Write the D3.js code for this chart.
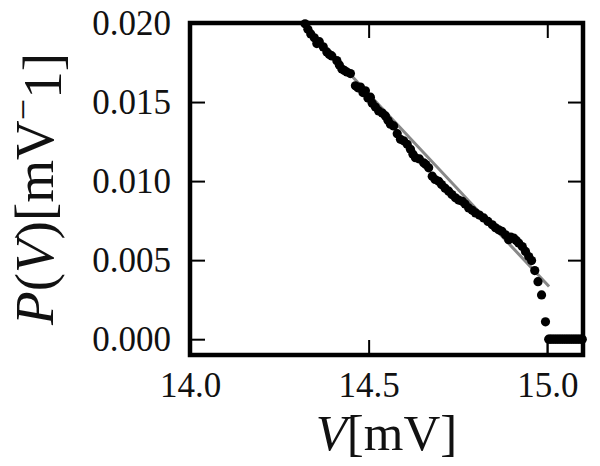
<!DOCTYPE html>
<html>
<head>
<meta charset="utf-8">
<script src="https://cdn.jsdelivr.net/npm/d3@7"></script>
<style>
  body { margin: 0; background: #fff; }
  svg text { font-family: "Liberation Serif", "Times New Roman", serif; fill: #111; }
  .axis path { display: none; }
  .axis line { stroke: #000; stroke-width: 2; }
</style>
</head>
<body>
<div id="graph"></div>
<script>
// measured points (V in mV, P in 1/mV)
var voltage = [14.322, 14.330, 14.338, 14.348, 14.355, 14.362, 14.373, 14.383, 14.390, 14.397,
  14.411, 14.418, 14.425, 14.432, 14.439, 14.449, 14.463, 14.470, 14.477, 14.484,
  14.491, 14.498, 14.505, 14.510, 14.519, 14.528, 14.538, 14.547, 14.554, 14.561,
  14.570, 14.580, 14.589, 14.598, 14.608, 14.617, 14.624, 14.631, 14.642, 14.654,
  14.660, 14.668, 14.678, 14.686, 14.696, 14.704, 14.714, 14.724, 14.733, 14.743,
  14.752, 14.762, 14.770, 14.780, 14.790, 14.799, 14.810, 14.822, 14.834, 14.846,
  14.855, 14.864, 14.873, 14.883, 14.892, 14.898, 14.906, 14.913, 14.920, 14.930,
  14.939, 14.948, 14.956, 14.965, 14.974, 14.984, 14.995, 15.004];
var density = [0.01995, 0.01960, 0.01931, 0.01906, 0.01870, 0.01882, 0.01849, 0.01817, 0.01800, 0.01792,
  0.01762, 0.01735, 0.01709, 0.01700, 0.01690, 0.01680, 0.01603, 0.01590, 0.01595, 0.01560,
  0.01571, 0.01525, 0.01531, 0.01493, 0.01468, 0.01444, 0.01430, 0.01412, 0.01385, 0.01360,
  0.01349, 0.01300, 0.01264, 0.01255, 0.01233, 0.01201, 0.01170, 0.01148, 0.01140, 0.01116,
  0.01105, 0.01084, 0.01031, 0.01010, 0.00999, 0.00978, 0.00955, 0.00936, 0.00915, 0.00894,
  0.00880, 0.00872, 0.00855, 0.00830, 0.00815, 0.00799, 0.00785, 0.00767, 0.00745, 0.00724,
  0.00705, 0.00692, 0.00682, 0.00660, 0.00629, 0.00645, 0.00640, 0.00625, 0.00608, 0.00586,
  0.00555, 0.00523, 0.00497, 0.00434, 0.00364, 0.00280, 0.00110, 0.00000];
// flat zero tail above threshold
var tailVoltage = [15.008, 15.013, 15.018, 15.023, 15.028, 15.033, 15.038, 15.043, 15.048, 15.053,
  15.058, 15.063, 15.068, 15.073, 15.078, 15.083, 15.088, 15.093, 15.098];
// straight fit line end points
var fitVoltage = [14.314, 15.005];
var fitDensity = [0.02000, 0.00333];

var xTicks = [14.0, 14.5, 15.0];
var yTicks = [0.000, 0.005, 0.010, 0.015, 0.020];
var threshold = 15.0;

var serif = '"Liberation Serif", "Times New Roman", serif';
var width = 600, height = 466;
var margin = {left: 190, right: 17, top: 23, bottom: 111};

var svg = d3.select('#graph').append('svg')
  .attr('width', width)
  .attr('height', height);

var x = d3.scaleLinear().domain([14.0, 15.1]).range([margin.left, width - margin.right]);
var y = d3.scaleLinear().domain([-0.001, 0.020]).range([height - margin.bottom, margin.top]);

// fit line
var fit = fitVoltage.map(function(v, i){ return [v, fitDensity[i]]; });
svg.append('path')
  .datum(fit)
  .attr('d', d3.line().x(function(d){ return x(d[0]); }).y(function(d){ return y(d[1]); }))
  .attr('fill', 'none')
  .attr('stroke', '#888')
  .attr('stroke-width', 3);

// step at threshold
svg.append('line')
  .attr('x1', x(threshold)).attr('x2', x(threshold))
  .attr('y1', y(0)).attr('y2', y(-0.001))
  .attr('stroke', '#000')
  .attr('stroke-width', 1.5);

// points
var pts = voltage.map(function(v, i){ return [v, density[i]]; })
  .concat(tailVoltage.map(function(v){ return [v, 0]; }));
svg.selectAll('.pt')
  .data(pts)
  .enter()
  .append('circle')
  .attr('class', 'pt')
  .attr('cx', function(d){ return x(d[0]); })
  .attr('cy', function(d){ return y(d[1]); })
  .attr('r', 4.6)
  .attr('fill', '#000');

// axes, ticks pointing inward
var tickLen = 15;
svg.append('g').attr('class', 'axis')
  .attr('transform', 'translate(0,' + (height - margin.bottom) + ')')
  .call(d3.axisBottom(x).tickValues(xTicks).tickSize(-tickLen).tickPadding(17).tickFormat(d3.format('.1f')))
  .selectAll('text').style('font-family', serif).style('font-size', '35px');
svg.append('g').attr('class', 'axis')
  .attr('transform', 'translate(0,' + margin.top + ')')
  .call(d3.axisTop(x).tickValues(xTicks).tickSize(-tickLen).tickFormat(''));
svg.append('g').attr('class', 'axis')
  .attr('transform', 'translate(' + margin.left + ',0)')
  .call(d3.axisLeft(y).tickValues(yTicks).tickSize(-tickLen).tickPadding(19).tickFormat(d3.format('.3f')))
  .selectAll('text').style('font-family', serif).style('font-size', '35px');
svg.append('g').attr('class', 'axis')
  .attr('transform', 'translate(' + (width - margin.right) + ',0)')
  .call(d3.axisRight(y).tickValues(yTicks).tickSize(-tickLen).tickFormat(''));

// frame
svg.append('rect')
  .attr('x', margin.left)
  .attr('y', margin.top)
  .attr('width', width - margin.left - margin.right)
  .attr('height', height - margin.top - margin.bottom)
  .attr('fill', 'none')
  .attr('stroke', '#000')
  .attr('stroke-width', 4.5);

// axis labels
var xLabel = svg.append('text')
  .attr('x', (margin.left + width - margin.right) / 2)
  .attr('y', 450)
  .attr('text-anchor', 'middle')
  .style('font-family', serif)
  .style('font-size', '51px');
xLabel.append('tspan').style('font-style', 'italic').text('V');
xLabel.append('tspan').text('[mV]');

var yLabel = svg.append('text')
  .attr('transform', 'translate(53,' + ((margin.top + height - margin.bottom) / 2) + ') rotate(-90)')
  .attr('text-anchor', 'middle')
  .style('font-family', serif)
  .style('font-size', '55px');
yLabel.append('tspan').style('font-style', 'italic').text('P');
yLabel.append('tspan').text('(');
yLabel.append('tspan').style('font-style', 'italic').text('V');
yLabel.append('tspan').text(')[mV');
yLabel.append('tspan').attr('dy', '-0.45em').style('font-size', '38px').text('−');
yLabel.append('tspan').attr('dy', '0.45em').text('1]');
</script>
</body>
</html>
